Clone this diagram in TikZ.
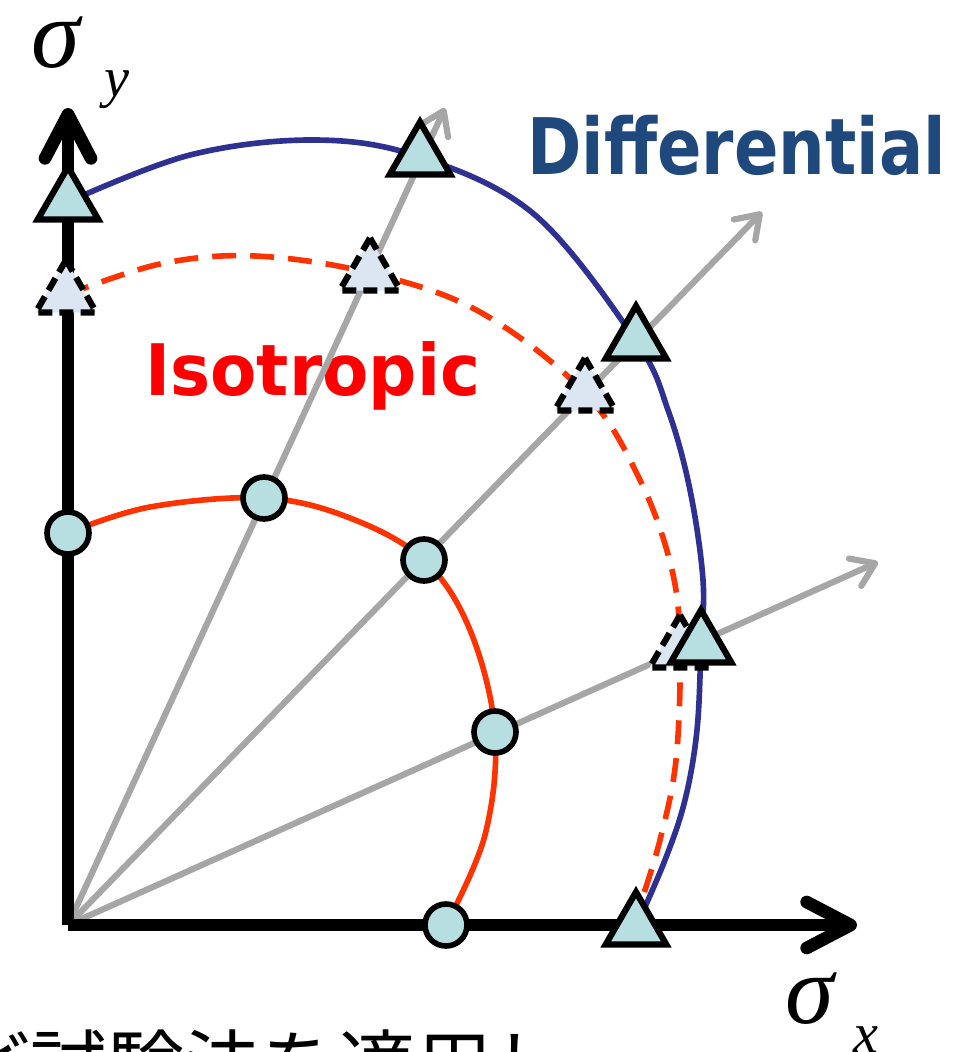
\documentclass[tikz,border=0pt]{standalone}
\usepackage{fontspec}
\usetikzlibrary{arrows.meta,shapes.geometric,backgrounds}
\newfontfamily\labfont{DejaVu Sans}
\newfontfamily\greekfont{Liberation Serif}
\newfontfamily\jpfont{Noto Sans CJK JP}
\definecolor{markfill}{RGB}{183,222,224}
\definecolor{dashfill}{RGB}{220,230,242}
\definecolor{isored}{RGB}{255,51,0}
\definecolor{difblue}{RGB}{46,49,146}
\definecolor{diftext}{RGB}{31,73,125}
\definecolor{raygray}{RGB}{166,166,166}

\begin{document}
\begin{tikzpicture}[x=0.025cm,y=-0.025cm,
 axis/.style={line width=9pt,-{Straight Barb[length=1.1cm,width=1.15cm,round]}},
 ray/.style={raygray,line width=4.4pt,-{Straight Barb[length=0.55cm,width=0.75cm,round]}},
 circ/.style={circle,draw,line width=4pt,fill=markfill,minimum size=1.05cm,inner sep=0pt},
 tri/.style={regular polygon,regular polygon sides=3,draw,line width=4.4pt,fill=markfill,minimum size=1.75cm,inner sep=0pt},
 dtri/.style={tri,fill=dashfill,dash pattern=on 10pt off 5pt},
 isocurve/.style={isored,line width=4pt},
 difcurve/.style={difblue,line width=4pt},
 label/.style={inner sep=0pt,anchor=base west}]
\useasboundingbox (0,0) rectangle (976,1052);
\coordinate (O) at (68,925);
\coordinate (ytip) at (68,108);
\coordinate (xtip) at (857,925);
\coordinate (r1) at (445,108);
\coordinate (r2) at (762,212);
\coordinate (r3) at (878,562);

\node[circ] (c0) at (68,533) {};
\node[circ] (c1) at (264,498) {};
\node[circ] (c2) at (424,560) {};
\node[circ] (c3) at (495,732) {};
\node[circ] (c4) at (446,925) {};

\node[dtri] (d0) at (66,295) {};
\node[dtri] (d1) at (370,273) {};
\node[dtri] (d2) at (585,393) {};
\node[dtri] (d3) at (680,650) {};

\node[tri] (t0) at (68,202) {};
\node[tri] (t1) at (420,157) {};
\node[tri] (t2) at (636,341) {};
\node[tri] (t3) at (701,645) {};
\node[tri] (t4) at (636,927) {};

\begin{scope}[on background layer]
\node[label,text=red] (iso) at (145,395)
 {\labfont\bfseries\fontsize{50.5}{55}\selectfont\scalebox{0.95}[1]{Isotropic}};
\draw[ray] (O) -- (r1);
\draw[ray] (O) -- (r2);
\draw[ray] (O) -- (r3);
\draw[isocurve] plot[smooth,tension=0.6] coordinates {(c0.center) (150,507) (c1.center)
 (350,518) (c2.center) (470,630) (c3.center) (485,835) (c4.center)};
\draw[isocurve,dash pattern=on 17pt off 10pt] plot[smooth,tension=0.6] coordinates
 {(d0.center) (160,264) (255,256) (d1.center) (480,312) (d2.center) (640,480)
 (672,570) (d3.center) (676,760) (660,840) (640,905)};
\draw[difcurve] plot[smooth,tension=0.6] coordinates {(t0.center) (190,155) (315,140)
 (t1.center) (535,215) (t2.center) (668,410) (690,490) (703,580) (t3.center) (697,730)
 (685,800) (665,860) (t4.center)};
\draw[axis] (O) -- (ytip);
\draw[axis] (O) -- (xtip);
\end{scope}

\node[label,text=diftext] (dif) at (527,174)
 {\labfont\bfseries\fontsize{55.5}{60}\selectfont\scalebox{0.84}[1]{Differential}};
\node[label] (sy) at (31,67)
 {\greekfont\itshape\fontsize{70}{74}\selectfont σ\kern0.62cm\raisebox{-0.725cm}{\fontsize{40}{44}\selectfont y}};
\node[label] (sx) at (785,1023)
 {\greekfont\itshape\fontsize{70}{74}\selectfont σ\kern0.5cm\raisebox{-0.725cm}{\fontsize{40}{44}\selectfont x}};
\node[label] (jp) at (-47,1094)
 {\jpfont\fontsize{54.8}{60}\selectfont ど試験法を適用し};
\end{tikzpicture}
\end{document}
